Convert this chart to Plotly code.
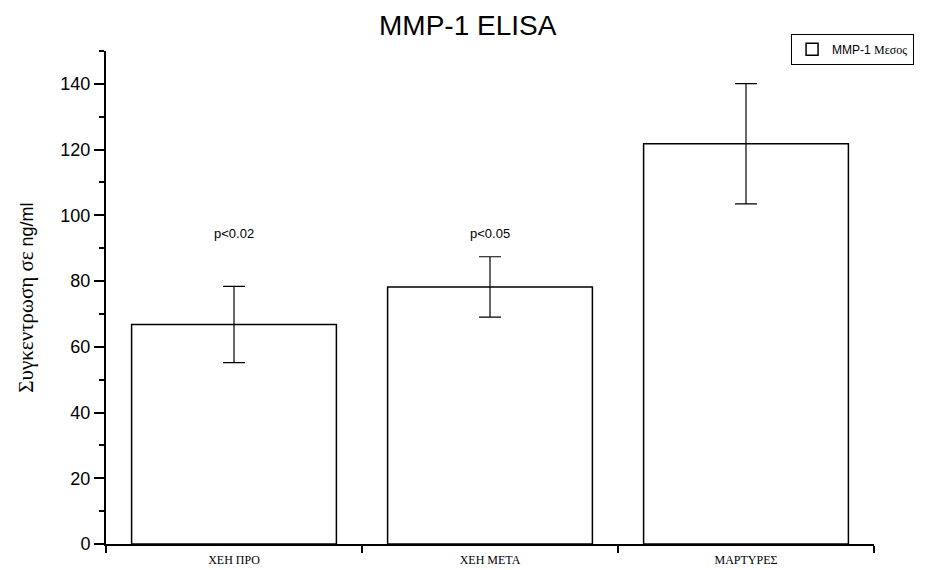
import plotly.graph_objects as go

categories = ["ΧΕΗ ΠΡΟ", "ΧΕΗ ΜΕΤΑ", "ΜΑΡΤΥΡΕΣ"]
means = [66.8, 78.2, 121.8]
errors = [11.6, 9.2, 18.3]
p_labels = ["p<0.02", "p<0.05"]
p_label_y = [94.6, 94.4]
y_ticks = [0, 20, 40, 60, 80, 100, 120, 140]

SANS = "Liberation Sans, Arial, sans-serif"
SERIF = "Liberation Serif, Times New Roman, serif"
SERIF_SPAN = "font-family:'Liberation Serif', 'Times New Roman', serif;"

fig = go.Figure()
fig.add_trace(go.Bar(
    x=categories, y=means,
    name=f'MMP-1 <span style="{SERIF_SPAN}">Μεσος</span>',
    marker=dict(color="white", line=dict(color="black", width=1.5)),
    width=0.8,
    error_y=dict(type="data", array=errors, visible=True, color="black",
                 thickness=1.2, width=11),
    showlegend=True,
))

for cat, lab, yy in zip(categories[:2], p_labels, p_label_y):
    fig.add_annotation(x=cat, y=yy, text=lab, showarrow=False,
                       font=dict(family=SANS, size=13, color="black"))

fig.update_layout(
    width=928, height=570,
    margin=dict(l=106, r=54, t=51, b=26, autoexpand=False),
    plot_bgcolor="white", paper_bgcolor="white",
    title=dict(text="MMP-1 ELISA", x=0.504, xanchor="center", y=0.973, yanchor="top",
               font=dict(family=SANS, size=28, color="black")),
    showlegend=True,
    legend=dict(x=0.892, y=1.035, xanchor="left", yanchor="top",
                bordercolor="black", borderwidth=1, bgcolor="white",
                font=dict(family=SANS, size=12, color="black"),
                itemwidth=30, tracegroupgap=0),
    bargap=0.2,
)

fig.update_xaxes(
    type="category", range=[-0.5, 2.5], automargin=False,
    showline=True, linecolor="black", linewidth=2,
    ticks="outside", tickson="boundaries", ticklen=7, tickwidth=2, tickcolor="black",
    ticklabelstandoff=4,
    tickfont=dict(family=SERIF, size=12, color="black"),
    showgrid=False, zeroline=False,
)
fig.update_yaxes(
    range=[0, 150], tickvals=y_ticks, automargin=False,
    showline=True, linecolor="black", linewidth=2,
    ticks="outside", ticklen=10, tickwidth=2, tickcolor="black",
    tickfont=dict(family=SANS, size=18, color="black"),
    minor=dict(dtick=10, tick0=0, ticks="outside", ticklen=5, tickwidth=2, tickcolor="black"),
    showgrid=False, zeroline=False,
    title=dict(text=f'<span style="{SERIF_SPAN} font-size:21px">Συγκεντρωση σε</span> ng/ml',
               font=dict(family=SANS, size=18, color="black"), standoff=22),
)

fig.write_html("out.html")
